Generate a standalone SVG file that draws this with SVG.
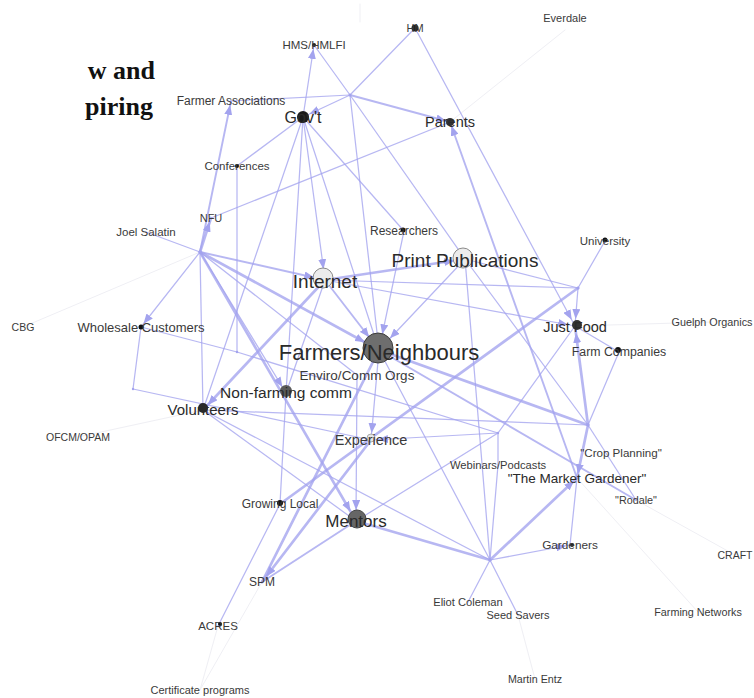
<svg xmlns="http://www.w3.org/2000/svg" width="754" height="698" viewBox="0 0 754 698">
  <style>
    .e { stroke: #a3a3ee; stroke-opacity: 0.78; stroke-linecap: round; fill: none; }
    .t { stroke-width: 1.25; }
    .m { stroke-width: 1.9; }
    .k { stroke-width: 2.7; }
    .f { stroke: #efeff4; stroke-opacity: 1; stroke-width: 1; }
    .lbl { font-family: "Liberation Sans", Arial, sans-serif; fill: #3a3a3a; text-anchor: middle; }
    .big { fill: #2a2a2a; }
    .title { font-family: "Liberation Serif", "Times New Roman", serif; font-weight: bold; font-size: 26px; fill: #111; text-anchor: end; }
  </style>
  <defs>
    <marker id="a4" viewBox="0 0 10 8" markerUnits="userSpaceOnUse" markerWidth="10" markerHeight="8" refX="14" refY="4" orient="auto">
      <path d="M0,0 L10,4 L0,8 z" fill="#a3a3ee"/>
    </marker>
    <marker id="a7" viewBox="0 0 10 8" markerUnits="userSpaceOnUse" markerWidth="10" markerHeight="8" refX="17" refY="4" orient="auto">
      <path d="M0,0 L10,4 L0,8 z" fill="#a3a3ee"/>
    </marker>
    <marker id="a11" viewBox="0 0 10 8" markerUnits="userSpaceOnUse" markerWidth="10" markerHeight="8" refX="21" refY="4" orient="auto">
      <path d="M0,0 L10,4 L0,8 z" fill="#a3a3ee"/>
    </marker>
    <marker id="a16" viewBox="0 0 10 8" markerUnits="userSpaceOnUse" markerWidth="10" markerHeight="8" refX="26" refY="4" orient="auto">
      <path d="M0,0 L10,4 L0,8 z" fill="#a3a3ee"/>
    </marker>
  </defs>

  <rect width="754" height="698" fill="#ffffff"/>

  <!-- heading fragment at the page edge -->
  <text class="title" x="155" y="79">w and</text>
  <text class="title" x="153" y="115">piring</text>

  <g id="connectors">
    <!-- faint edges to peripheral nodes -->
    <line class="e f" x1="565" y1="30" x2="450" y2="122"/>
    <line class="e f" x1="23" y1="327" x2="200" y2="252"/>
    <line class="e f" x1="78" y1="437" x2="203" y2="410"/>
    <line class="e f" x1="200" y1="690" x2="218" y2="626"/>
    <line class="e f" x1="200" y1="690" x2="262" y2="582"/>
    <line class="e f" x1="712" y1="322" x2="575" y2="326"/>
    <line class="e f" x1="735" y1="555" x2="636" y2="500"/>
    <line class="e f" x1="698" y1="612" x2="577" y2="478"/>
    <line class="e f" x1="535" y1="679" x2="518" y2="615"/>
    <line class="e f" x1="360" y1="4" x2="360" y2="22"/>

    <!-- upper cluster -->
    <line class="e t" x1="350" y1="95" x2="231" y2="101"/>
    <line class="e t" x1="350" y1="95" x2="415" y2="28"/>
    <line class="e t" x1="350" y1="95" x2="314" y2="45"/>
    <line class="e t" x1="350" y1="95" x2="303" y2="117" marker-end="url(#a7)"/>
    <line class="e m" x1="350" y1="95" x2="450" y2="122" marker-end="url(#a4)"/>
    <line class="e t" x1="350" y1="95" x2="379" y2="350"/>
    <line class="e t" x1="350" y1="95" x2="465" y2="259"/>
    <line class="e t" x1="415" y1="28" x2="575" y2="326" marker-end="url(#a7)"/>
    <line class="e t" x1="303" y1="117" x2="314" y2="45" marker-end="url(#a4)"/>
    <line class="e t" x1="303" y1="117" x2="237" y2="166"/>
    <line class="e t" x1="303" y1="117" x2="325" y2="280" marker-end="url(#a11)"/>
    <line class="e t" x1="303" y1="117" x2="379" y2="350"/>
    <line class="e t" x1="303" y1="117" x2="286" y2="393"/>
    <line class="e t" x1="303" y1="117" x2="203" y2="410"/>
    <line class="e t" x1="211" y1="218" x2="450" y2="122"/>
    <line class="e t" x1="404" y1="231" x2="303" y2="117"/>

    <!-- left hub -->
    <line class="e k" x1="200" y1="252" x2="211" y2="218" marker-end="url(#a4)"/>
    <line class="e m" x1="200" y1="252" x2="231" y2="101" marker-end="url(#a4)"/>
    <line class="e t" x1="146" y1="232" x2="200" y2="252"/>
    <line class="e t" x1="200" y1="252" x2="141" y2="327" marker-end="url(#a4)"/>
    <line class="e t" x1="200" y1="252" x2="203" y2="410"/>
    <line class="e m" x1="200" y1="252" x2="325" y2="280" marker-end="url(#a11)"/>
    <line class="e k" x1="200" y1="252" x2="379" y2="350" marker-end="url(#a16)"/>
    <line class="e t" x1="200" y1="252" x2="357" y2="375"/>
    <line class="e t" x1="200" y1="252" x2="286" y2="393" marker-end="url(#a7)"/>
    <line class="e k" x1="200" y1="252" x2="356" y2="521" marker-end="url(#a11)"/>

    <!-- middle left -->
    <line class="e t" x1="237" y1="166" x2="237" y2="352"/>
    <line class="e t" x1="141" y1="327" x2="237" y2="352"/>
    <line class="e t" x1="237" y1="352" x2="498" y2="433"/>
    <line class="e t" x1="141" y1="327" x2="133" y2="389"/>
    <line class="e t" x1="133" y1="389" x2="371" y2="440"/>
    <line class="e t" x1="203" y1="410" x2="588" y2="425"/>
    <line class="e t" x1="203" y1="410" x2="356" y2="521"/>
    <line class="e t" x1="203" y1="410" x2="490" y2="560"/>
    <line class="e k" x1="325" y1="280" x2="203" y2="410" marker-end="url(#a7)"/>
    <line class="e t" x1="286" y1="393" x2="280" y2="504"/>
    <line class="e t" x1="286" y1="393" x2="325" y2="280"/>

    <!-- centre -->
    <line class="e k" x1="325" y1="280" x2="465" y2="259" marker-end="url(#a11)"/>
    <line class="e m" x1="325" y1="280" x2="379" y2="350" marker-end="url(#a16)"/>
    <line class="e t" x1="325" y1="280" x2="575" y2="326" marker-end="url(#a7)"/>
    <line class="e t" x1="325" y1="280" x2="578" y2="288"/>
    <line class="e t" x1="404" y1="231" x2="379" y2="350" marker-end="url(#a16)"/>
    <line class="e t" x1="465" y1="259" x2="379" y2="350" marker-end="url(#a16)"/>
    <line class="e t" x1="465" y1="259" x2="490" y2="560"/>
    <line class="e t" x1="465" y1="259" x2="588" y2="425"/>
    <line class="e t" x1="465" y1="259" x2="578" y2="288"/>
    <line class="e m" x1="577" y1="478" x2="450" y2="122" marker-end="url(#a4)"/>
    <line class="e t" x1="379" y1="350" x2="371" y2="440" marker-end="url(#a7)"/>
    <line class="e k" x1="379" y1="350" x2="588" y2="425"/>
    <line class="e t" x1="379" y1="350" x2="490" y2="560"/>
    <line class="e m" x1="379" y1="350" x2="636" y2="500"/>
    <line class="e t" x1="357" y1="375" x2="356" y2="521" marker-end="url(#a11)"/>
    <line class="e k" x1="379" y1="350" x2="262" y2="582"/>
    <line class="e k" x1="371" y1="440" x2="262" y2="582" marker-end="url(#a7)"/>

    <!-- lower cluster -->
    <line class="e k" x1="280" y1="504" x2="578" y2="288"/>
    <line class="e t" x1="218" y1="626" x2="280" y2="504"/>
    <line class="e m" x1="356" y1="521" x2="262" y2="582"/>
    <line class="e k" x1="356" y1="521" x2="490" y2="560"/>
    <line class="e t" x1="356" y1="521" x2="498" y2="433"/>
    <line class="e t" x1="490" y1="560" x2="468" y2="602"/>
    <line class="e t" x1="490" y1="560" x2="518" y2="615"/>
    <line class="e t" x1="490" y1="560" x2="570" y2="545" marker-end="url(#a4)"/>
    <line class="e k" x1="490" y1="560" x2="577" y2="478" marker-end="url(#a4)"/>
    <line class="e t" x1="490" y1="560" x2="498" y2="465"/>

    <!-- right cluster -->
    <line class="e k" x1="588" y1="425" x2="575" y2="326" marker-end="url(#a7)"/>
    <line class="e t" x1="588" y1="425" x2="619" y2="352"/>
    <line class="e k" x1="588" y1="425" x2="577" y2="478" marker-end="url(#a4)"/>
    <line class="e t" x1="588" y1="425" x2="636" y2="500"/>
    <line class="e t" x1="578" y1="288" x2="605" y2="241"/>
    <line class="e t" x1="578" y1="288" x2="575" y2="326" marker-end="url(#a7)"/>
    <line class="e t" x1="575" y1="326" x2="619" y2="352"/>
    <line class="e t" x1="575" y1="326" x2="498" y2="433"/>
    <line class="e t" x1="577" y1="478" x2="570" y2="545"/>
    <line class="e t" x1="498" y1="433" x2="371" y2="440" marker-end="url(#a7)"/>
    <line class="e t" x1="498" y1="433" x2="498" y2="465"/>
  </g>

  <!-- junction nodes without labels -->
  <g id="n-hub-top"><circle cx="350" cy="95" r="1.5" fill="#a3a3ee"/></g>
  <g id="n-hub-left"><circle cx="200" cy="252" r="1.5" fill="#a3a3ee"/></g>
  <g id="n-hub-midleft"><circle cx="237" cy="352" r="1.2" fill="#a3a3ee"/></g>
  <g id="n-hub-wholesale"><circle cx="133" cy="389" r="1.2" fill="#a3a3ee"/></g>
  <g id="n-hub-webinar"><circle cx="498" cy="433" r="1.2" fill="#a3a3ee"/></g>
  <g id="n-hub-justfood"><circle cx="588" cy="425" r="1.5" fill="#a3a3ee"/></g>
  <g id="n-hub-upperright"><circle cx="578" cy="288" r="1.5" fill="#a3a3ee"/></g>
  <g id="n-hub-lowerright"><circle cx="490" cy="560" r="1.5" fill="#a3a3ee"/></g>

  <!-- labelled nodes -->
  <g id="n-hms"><circle cx="314" cy="45" r="2" fill="#222"/><text class="lbl" x="314" y="45" dy="0.35em" font-size="11.5">HMS/HMLFI</text></g>
  <g id="n-hm"><circle cx="415" cy="28" r="3.5" fill="#222"/><text class="lbl" x="415" y="28" dy="0.35em" font-size="11">HM</text></g>
  <g id="n-govt"><circle cx="303" cy="117" r="6" fill="#1a1a1a"/><text class="lbl big" x="303" y="117" dy="0.35em" font-size="16">Gov't</text></g>
  <g id="n-parents"><circle cx="450" cy="122" r="4" fill="#333"/><text class="lbl big" x="450" y="122" dy="0.35em" font-size="14.5">Parents</text></g>
  <g id="n-everdale"><text class="lbl" x="565" y="18" dy="0.35em" font-size="11">Everdale</text></g>
  <g id="n-farmer-assoc"><text class="lbl" x="231" y="101" dy="0.35em" font-size="12">Farmer Associations</text></g>
  <g id="n-conferences"><circle cx="237" cy="166" r="2" fill="#111"/><text class="lbl" x="237" y="166" dy="0.35em" font-size="11.5">Conferences</text></g>
  <g id="n-nfu"><text class="lbl" x="211" y="218" dy="0.35em" font-size="11">NFU</text></g>
  <g id="n-joel"><text class="lbl" x="146" y="232" dy="0.35em" font-size="11.5">Joel Salatin</text></g>
  <g id="n-wholesale"><circle cx="141" cy="327" r="2.5" fill="#111"/><text class="lbl" x="141" y="327" dy="0.35em" font-size="13">Wholesale Customers</text></g>
  <g id="n-cbg"><text class="lbl" x="23" y="327" dy="0.35em" font-size="10.5">CBG</text></g>
  <g id="n-nonfarming"><circle cx="286" cy="391" r="6" fill="#5a5a5a"/><text class="lbl big" x="286" y="393" dy="0.35em" font-size="15.5">Non-farming comm</text></g>
  <g id="n-volunteers"><circle cx="203" cy="408" r="5" fill="#2a2a2a"/><text class="lbl big" x="203" y="410" dy="0.35em" font-size="15">Volunteers</text></g>
  <g id="n-ofcm"><text class="lbl" x="78" y="437" dy="0.35em" font-size="10.5">OFCM/OPAM</text></g>
  <g id="n-internet"><circle cx="323" cy="278" r="10" fill="#ececec" stroke="#8a8a8a" stroke-width="1"/><text class="lbl big" x="325" y="281" dy="0.35em" font-size="19">Internet</text></g>
  <g id="n-researchers"><circle cx="403" cy="230" r="2.5" fill="#111"/><text class="lbl" x="404" y="231" dy="0.35em" font-size="12">Researchers</text></g>
  <g id="n-print"><circle cx="463" cy="258" r="10" fill="#ececec" stroke="#8a8a8a" stroke-width="1"/><text class="lbl big" x="465" y="260" dy="0.35em" font-size="19">Print Publications</text></g>
  <g id="n-farmers"><circle cx="378" cy="348" r="15" fill="#6e6e6e" stroke="#3c3c3c" stroke-width="1"/><text class="lbl big" x="379" y="352" dy="0.35em" font-size="22">Farmers/Neighbours</text></g>
  <g id="n-enviro"><text class="lbl" x="357" y="375" dy="0.35em" font-size="13.5">Enviro/Comm Orgs</text></g>
  <g id="n-experience"><circle cx="371" cy="438" r="4" fill="#e6e6e6" stroke="#999" stroke-width="0.8"/><text class="lbl" x="371" y="440" dy="0.35em" font-size="14.5">Experience</text></g>
  <g id="n-university"><circle cx="605" cy="240" r="2.5" fill="#111"/><text class="lbl" x="605" y="241" dy="0.35em" font-size="11.5">University</text></g>
  <g id="n-justfood"><circle cx="577" cy="325" r="5" fill="#333"/><text class="lbl big" x="575" y="327" dy="0.35em" font-size="14.5">Just Food</text></g>
  <g id="n-guelph"><text class="lbl" x="712" y="322" dy="0.35em" font-size="10.8">Guelph Organics</text></g>
  <g id="n-farmco"><circle cx="618" cy="350" r="3" fill="#111"/><text class="lbl" x="619" y="352" dy="0.35em" font-size="12.3">Farm Companies</text></g>
  <g id="n-crop"><text class="lbl" x="621" y="453" dy="0.35em" font-size="11.6">"Crop Planning"</text></g>
  <g id="n-webinars"><text class="lbl" x="498" y="465" dy="0.35em" font-size="11.2">Webinars/Podcasts</text></g>
  <g id="n-market-gardener"><text class="lbl big" x="577" y="478" dy="0.35em" font-size="13.5">"The Market Gardener"</text></g>
  <g id="n-rodale"><text class="lbl" x="636" y="500" dy="0.35em" font-size="10.8">"Rodale"</text></g>
  <g id="n-gardeners"><circle cx="572" cy="545" r="2" fill="#222"/><text class="lbl" x="570" y="545" dy="0.35em" font-size="11.8">Gardeners</text></g>
  <g id="n-craft"><text class="lbl" x="735" y="555" dy="0.35em" font-size="10.5">CRAFT</text></g>
  <g id="n-farming-networks"><text class="lbl" x="698" y="612" dy="0.35em" font-size="10.8">Farming Networks</text></g>
  <g id="n-entz"><text class="lbl" x="535" y="679" dy="0.35em" font-size="10.7">Martin Entz</text></g>
  <g id="n-seed"><text class="lbl" x="518" y="615" dy="0.35em" font-size="11">Seed Savers</text></g>
  <g id="n-eliot"><text class="lbl" x="468" y="602" dy="0.35em" font-size="11.2">Eliot Coleman</text></g>
  <g id="n-mentors"><circle cx="357" cy="519" r="9" fill="#666" stroke="#444" stroke-width="1"/><text class="lbl big" x="356" y="521" dy="0.35em" font-size="17">Mentors</text></g>
  <g id="n-growing"><circle cx="280" cy="503" r="3" fill="#111"/><text class="lbl" x="280" y="504" dy="0.35em" font-size="12">Growing Local</text></g>
  <g id="n-spm"><text class="lbl" x="262" y="582" dy="0.35em" font-size="12">SPM</text></g>
  <g id="n-acres"><circle cx="220" cy="624" r="2" fill="#111"/><text class="lbl" x="218" y="626" dy="0.35em" font-size="11.5">ACRES</text></g>
  <g id="n-certificate"><text class="lbl" x="200" y="690" dy="0.35em" font-size="11">Certificate programs</text></g>
</svg>
